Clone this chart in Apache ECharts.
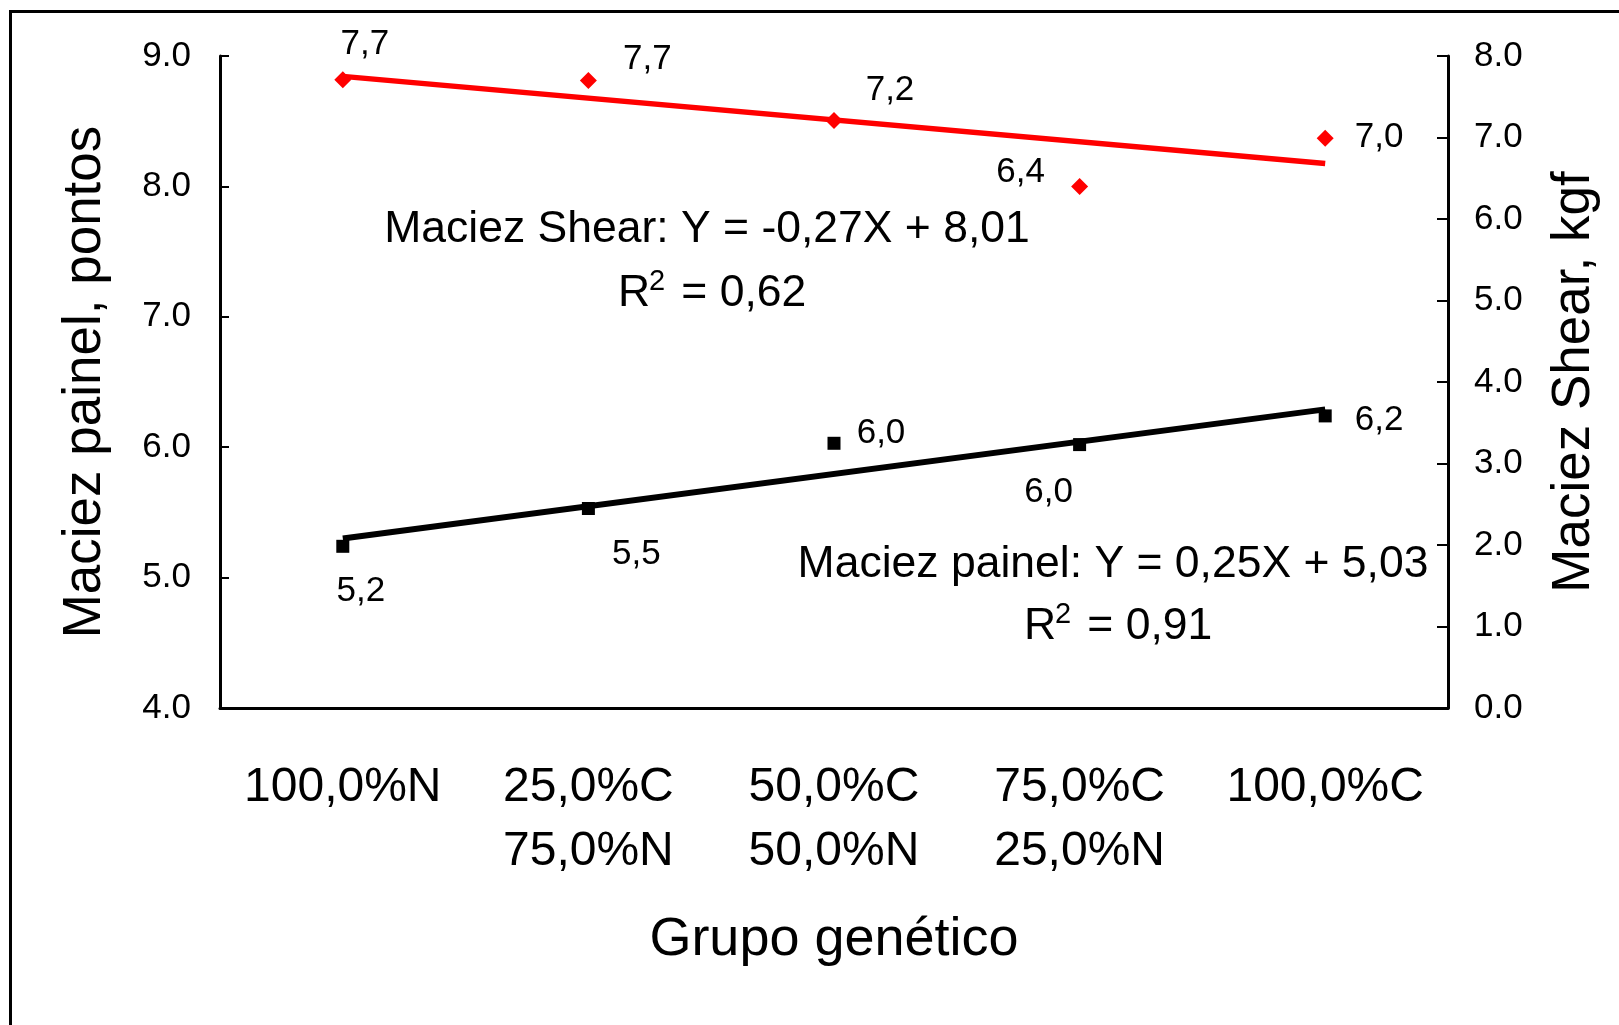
<!DOCTYPE html>
<html>
<head>
<meta charset="utf-8">
<script src="https://cdn.jsdelivr.net/npm/echarts@6/dist/echarts.min.js"></script>
<style>
  html, body { margin: 0; padding: 0; background: #fff; }
  #chart { width: 1619px; height: 1025px; }
</style>
</head>
<body>
<div id="chart"></div>
<script>
// data
const categories = ['100,0%N', '25,0%C\n75,0%N', '50,0%C\n50,0%N', '75,0%C\n25,0%N', '100,0%C'];
const painel = [5.24, 5.53, 6.03, 6.02, 6.24];
const painelLabels = ['5,2', '5,5', '6,0', '6,0', '6,2'];
const shear = [7.71, 7.70, 7.21, 6.40, 6.99];
const shearLabels = ['7,7', '7,7', '7,2', '6,4', '7,0'];
const painelTrend = [5.30, null, null, null, 6.29];
const shearTrend = [7.75, null, null, null, 6.68];
const leftTicks = { min: 4, max: 9, interval: 1 };
const rightTicks = { min: 0, max: 8, interval: 1 };

// label placement (offset from the point, px)
const painelOffsets = [[18, 45], [48, 46], [47, -10], [-31, 48], [54, 4]];
const shearOffsets = [[22, -35], [59, -21], [56, -30], [-59, -14], [54, -1]];

const FONT = '"Liberation Sans", Arial, sans-serif';

function withLabels(values, labels, offsets) {
  return values.map((v, i) => ({
    value: v,
    label: { formatter: labels[i], offset: offsets[i] }
  }));
}

// "R² = x" built from three texts so the superscript sits high
function rSquared(x, y, rest) {
  const base = { fill: '#000', verticalAlign: 'middle', align: 'left' };
  return {
    type: 'group', x: x, y: y,
    children: [
      { type: 'text', x: 0, y: 0, style: Object.assign({ text: 'R', font: '44.5px ' + FONT }, base) },
      { type: 'text', x: 31, y: -12, style: Object.assign({ text: '2', font: '29px ' + FONT }, base) },
      { type: 'text', x: 51, y: 0, style: Object.assign({ text: ' = ' + rest, font: '44.5px ' + FONT }, base) }
    ]
  };
}

const chart = echarts.init(document.getElementById('chart'));

chart.setOption({
  backgroundColor: '#fff',
  animation: false,
  textStyle: { fontFamily: FONT, color: '#000' },
  grid: { left: 220, right: 171, top: 56, bottom: 317 },
  xAxis: {
    type: 'category',
    data: categories,
    boundaryGap: true,
    axisLine: { lineStyle: { color: '#000', width: 3 } },
    axisTick: { inside: true, length: 14, interval: 0, lineStyle: { color: '#000', width: 2 } },
    axisLabel: { interval: 0, margin: 48, fontSize: 48, lineHeight: 64, color: '#000', fontFamily: FONT },
    name: 'Grupo genético',
    nameLocation: 'middle',
    nameGap: 205,
    nameTextStyle: { fontSize: 54, lineHeight: 54, color: '#000', fontFamily: FONT }
  },
  yAxis: [
    {
      type: 'value',
      position: 'left',
      min: leftTicks.min, max: leftTicks.max, interval: leftTicks.interval,
      splitLine: { show: false },
      axisLine: { show: true, lineStyle: { color: '#000', width: 3 } },
      axisTick: { show: true, inside: true, length: 9, lineStyle: { color: '#000', width: 2 } },
      axisLabel: { margin: 29, fontSize: 35, color: '#000', fontFamily: FONT, formatter: v => v.toFixed(1) },
      name: 'Maciez painel, pontos',
      nameLocation: 'middle',
      nameRotate: 90,
      nameGap: 108,
      nameTextStyle: { fontSize: 53, lineHeight: 53, color: '#000', fontFamily: FONT }
    },
    {
      type: 'value',
      position: 'right',
      min: rightTicks.min, max: rightTicks.max, interval: rightTicks.interval,
      splitLine: { show: false },
      axisLine: { show: true, lineStyle: { color: '#000', width: 3 } },
      axisTick: { show: true, inside: true, length: 11, lineStyle: { color: '#000', width: 2 } },
      axisLabel: { margin: 26, fontSize: 35, color: '#000', fontFamily: FONT, formatter: v => v.toFixed(1) },
      name: 'Maciez Shear, kgf',
      nameLocation: 'middle',
      nameRotate: 90,
      nameGap: 100,
      nameTextStyle: { fontSize: 53, lineHeight: 53, color: '#000', fontFamily: FONT }
    }
  ],
  series: [
    {
      name: 'Tendência painel',
      type: 'line',
      yAxisIndex: 0,
      data: painelTrend,
      connectNulls: true,
      showSymbol: false,
      lineStyle: { color: '#000', width: 6 },
      z: 2
    },
    {
      name: 'Tendência Shear',
      type: 'line',
      yAxisIndex: 1,
      data: shearTrend,
      connectNulls: true,
      showSymbol: false,
      lineStyle: { color: '#ff0000', width: 5.5 },
      z: 2
    },
    {
      name: 'Maciez painel',
      type: 'scatter',
      yAxisIndex: 0,
      symbol: 'rect',
      symbolSize: 13,
      itemStyle: { color: '#000', opacity: 1 },
      label: { show: true, position: 'inside', fontSize: 35, color: '#000', opacity: 1, fontFamily: FONT },
      data: withLabels(painel, painelLabels, painelOffsets),
      z: 3
    },
    {
      name: 'Maciez Shear',
      type: 'scatter',
      yAxisIndex: 1,
      symbol: 'diamond',
      symbolSize: 17,
      itemStyle: { color: '#ff0000', opacity: 1 },
      label: { show: true, position: 'inside', fontSize: 35, color: '#000', opacity: 1, fontFamily: FONT },
      data: withLabels(shear, shearLabels, shearOffsets),
      z: 3
    }
  ],
  graphic: [
    {
      type: 'rect',
      left: 8, top: 9,
      shape: { width: 1700, height: 1100 },
      style: { fill: 'none', stroke: '#000', lineWidth: 3 },
      silent: true
    },
    {
      type: 'text',
      x: 707, y: 230,
      style: {
        text: 'Maciez Shear: Y = -0,27X + 8,01',
        font: '44.5px ' + FONT, fill: '#000', align: 'center', verticalAlign: 'middle'
      }
    },
    rSquared(618, 294, '0,62'),
    {
      type: 'text',
      x: 1113, y: 565,
      style: {
        text: 'Maciez painel: Y = 0,25X + 5,03',
        font: '44.5px ' + FONT, fill: '#000', align: 'center', verticalAlign: 'middle'
      }
    },
    rSquared(1024, 627, '0,91')
  ]
});
</script>
</body>
</html>
